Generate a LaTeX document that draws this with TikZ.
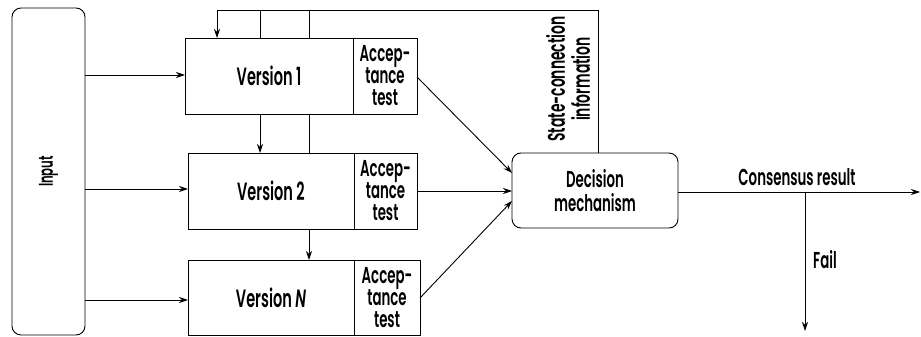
\documentclass[tikz,border=0pt]{standalone}
\usepackage{fontspec}
\setmainfont{Poppins SemiBold}[FakeStretch=0.58, ItalicFont=Poppins SemiBold Italic]
\usetikzlibrary{arrows.meta}

\tikzset{
  box/.style={draw, line width=0.9pt, inner sep=0pt, outer sep=0pt, anchor=north west},
  verbox/.style={box, minimum width=166pt, minimum height=76pt,
                 font=\fontsize{25}{26}\selectfont},
  accbox/.style={box, minimum width=64pt, minimum height=76pt, align=center,
                 font=\fontsize{23}{22}\selectfont},
  rbox/.style={box, rounded corners=9pt},
  wire/.style={line width=0.9pt},
  arr/.style={wire, -{Stealth[length=9pt,width=6pt]}},
  lbl/.style={inner sep=0pt, font=\fontsize{23}{24}\selectfont}
}

\begin{document}
\begin{tikzpicture}[x=1pt,y=-1pt, font=\fontsize{23}{24}\selectfont]
\useasboundingbox (0,0) rectangle (921,337);

% input column
\node[rbox, minimum width=73pt, minimum height=327pt] (inp) at (12,8) {};
\node[rotate=90, lbl, font=\fontsize{20}{24}\selectfont] (inplbl) at (inp.center) {Input};

% versions with their acceptance tests
\node[verbox, minimum width=168pt] (v1) at (185,38) {Version 1};
\node[accbox, minimum width=64pt] (a1) at (v1.north east) {Accep-\\tance\\test};

\node[verbox] (v2) at (188,153) {Version 2};
\node[accbox, minimum width=63pt] (a2) at (v2.north east) {Accep-\\tance\\test};

\node[verbox, minimum height=75pt] (vn) at (188,260) {Version \textit{N}};
\node[accbox, minimum width=66pt, minimum height=75pt] (an) at (vn.north east) {Accep-\\tance\\test};

% decision
\node[rbox, minimum width=166pt, minimum height=75pt, align=center] (dec) at (512,153) {Decision\\mechanism};

% inputs to versions
\draw[arr] (inp.east |- 0,75) -- (v1.west |- 0,75);
\draw[arr] (inp.east |- 0,189) -- (v2.west |- 0,189);
\draw[arr] (inp.east |- 0,300) -- (vn.west |- 0,300);

% acceptance tests to decision
\draw[arr] (a1.east |- 0,77) -- (512,173);
\draw[arr] (a2.east |- 0,191) -- (512,191);
\draw[arr] (an.east |- 0,298) -- (512,201);

% state-connection feedback
\coordinate (tr) at (598,10);
\coordinate (tl) at (217,10);
\draw[wire] (dec.north -| tr) -- (tr) -- (tl);
\draw[arr] (tl) -- (tl |- v1.north);
\draw[wire] (260,10) -- (v1.north -| 260,0);
\draw[wire] (309,10) -- (v1.north -| 309,0);
\draw[arr] (v1.south -| 260,0) -- (v2.north -| 260,0);
\draw[wire] (v1.south -| 309,0) -- (v2.north -| 309,0);
\draw[arr] (v2.south -| 309,0) -- (vn.north -| 309,0);
\node[rotate=90, lbl, align=center, font=\fontsize{24}{25}\selectfont] (sci) at (568,79) {State-connection\\information};

% outputs
\coordinate (outend) at (920,192);
\coordinate (fork) at (805,192);
\coordinate (failend) at (805,331);
\draw[arr] (dec.east |- outend) -- (outend);
\draw[arr] (fork) -- (failend);
\node[lbl, anchor=base] (cons) at (797,185) {Consensus result};
\node[lbl, anchor=base west] (fail) at (813,268) {Fail};
\end{tikzpicture}
\end{document}
